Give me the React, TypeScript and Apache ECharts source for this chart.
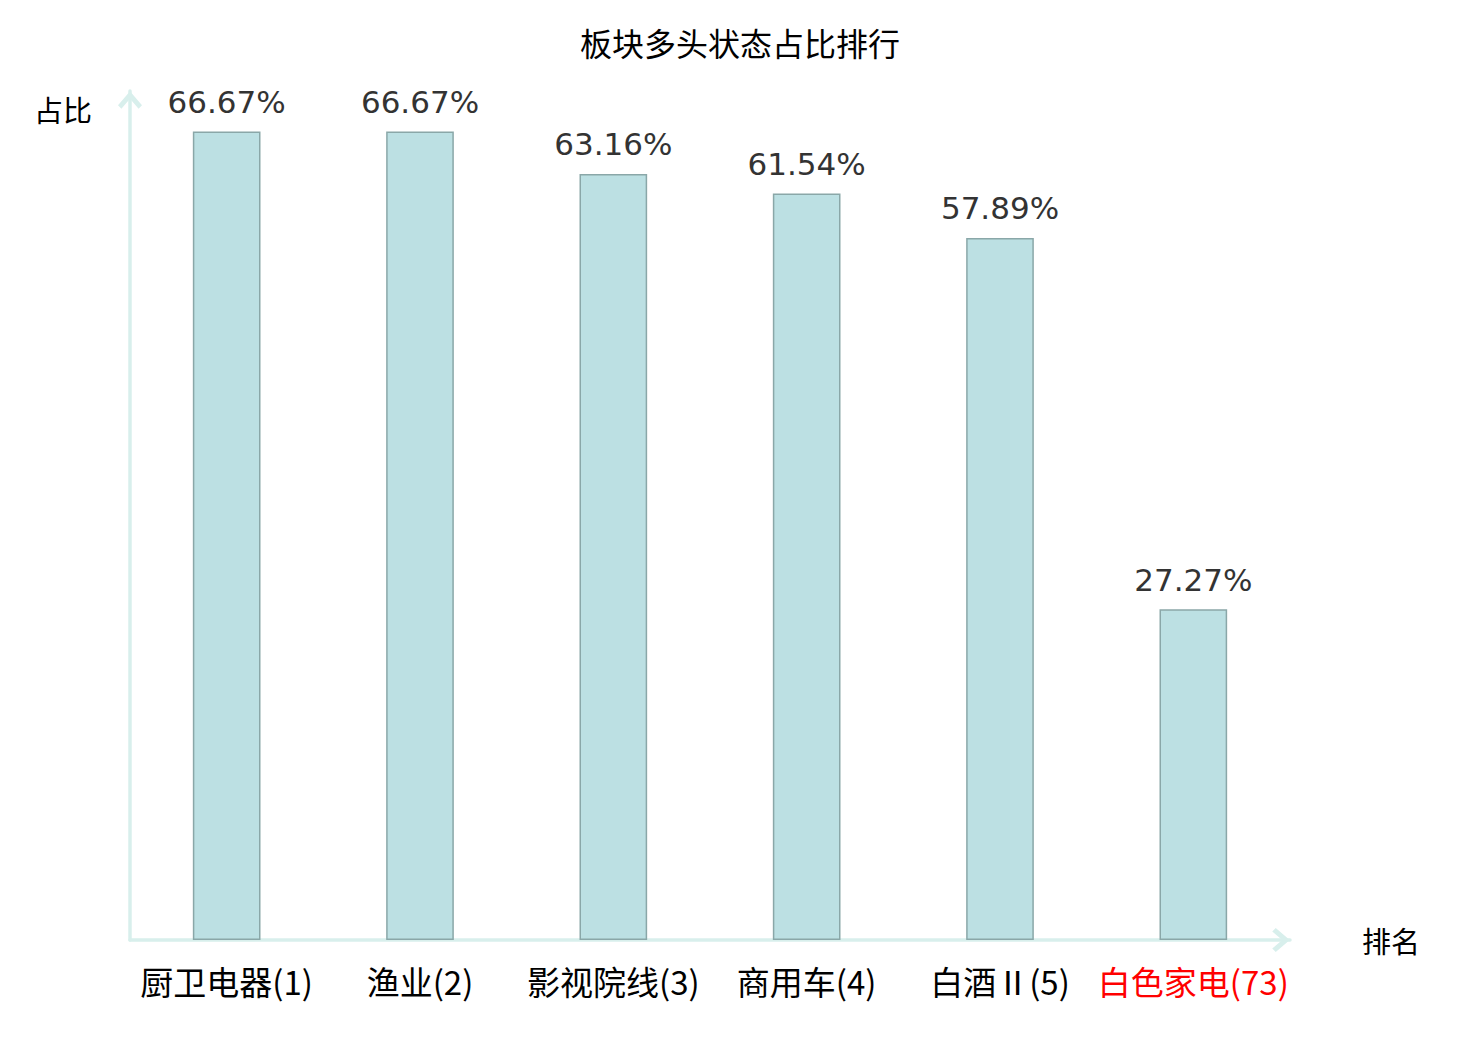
import React, { useEffect, useRef } from "react";
import * as echarts from "echarts";

const titleText = "板块多头状态占比排行";
const sectors = ["厨卫电器", "渔业", "影视院线", "商用车", "白酒Ⅱ", "白色家电"];
const ranks = [1, 2, 3, 4, 5, 73];
const ratios = [66.67, 66.67, 63.16, 61.54, 57.89, 27.27];
const yAxisName = "占比";
const xAxisName = "排名";
const highlightIndex = 5;

const CJK = "Noto Sans CJK SC";
const AXIS_COLOR = "#d8efec";
const CHEVRON = "path://M12,0 L24,14 L20.6,17.5 L12,7.5 L3.4,17.5 L0,14 Z";

export default function App() {
  const ref = useRef<HTMLDivElement>(null);
  useEffect(() => {
    if (!ref.current) return;
    const chart = echarts.init(ref.current, undefined, { renderer: "svg" });
    const categories = sectors.map((s, i) => `${s}(${ranks[i]})`);
    chart.setOption({
      animation: false,
      backgroundColor: "#ffffff",
      title: {
        text: titleText,
        left: "center",
        top: 21,
        textStyle: { fontFamily: CJK, fontSize: 32, fontWeight: "normal", color: "#000" },
      },
      grid: { left: 130, right: 190, top: 91, bottom: 100, containLabel: false },
      xAxis: {
        type: "category",
        data: categories,
        name: xAxisName,
        nameLocation: "end",
        nameGap: 72,
        nameTextStyle: { fontFamily: CJK, fontSize: 29, color: "#000", align: "left", verticalAlign: "middle" },
        axisLine: {
          show: true,
          symbol: ["none", CHEVRON],
          symbolSize: [24, 18],
          symbolOffset: [0, -9],
          lineStyle: { color: AXIS_COLOR, width: 3.5 },
        },
        axisTick: { show: false },
        axisLabel: {
          interval: 0,
          margin: 24,
          fontFamily: CJK,
          fontSize: 33,
          color: (_v: any, i: number) => (i === highlightIndex ? "#ff0000" : "#000000"),
        },
        splitLine: { show: false },
      },
      yAxis: {
        type: "value",
        min: 0,
        max: 70,
        name: yAxisName,
        nameLocation: "end",
        nameGap: -18,
        nameTextStyle: {
          fontFamily: CJK,
          fontSize: 29,
          color: "#000",
          align: "right",
          verticalAlign: "middle",
          padding: [0, 38, 0, 0],
        },
        axisLine: {
          show: true,
          symbol: ["none", CHEVRON],
          symbolSize: [24, 18],
          symbolOffset: [0, -9],
          lineStyle: { color: AXIS_COLOR, width: 3.5 },
        },
        axisTick: { show: false },
        axisLabel: { show: false },
        splitLine: { show: false },
      },
      series: [
        {
          type: "bar",
          data: ratios,
          barWidth: "35%",
          itemStyle: { color: "#bce0e3", borderColor: "#8aa7a8", borderWidth: 1.5 },
          label: {
            show: true,
            position: "top",
            distance: 14,
            fontFamily: "DejaVu Sans",
            fontSize: 31,
            color: "#333333",
            formatter: (p: any) => `${p.value.toFixed(2)}%`,
          },
        },
      ],
    });
    return () => chart.dispose();
  }, []);
  return (
    <div
      ref={ref}
      style={{ position: "fixed", left: 0, top: 0, width: 1480, height: 1040, background: "#fff" }}
    />
  );
}
